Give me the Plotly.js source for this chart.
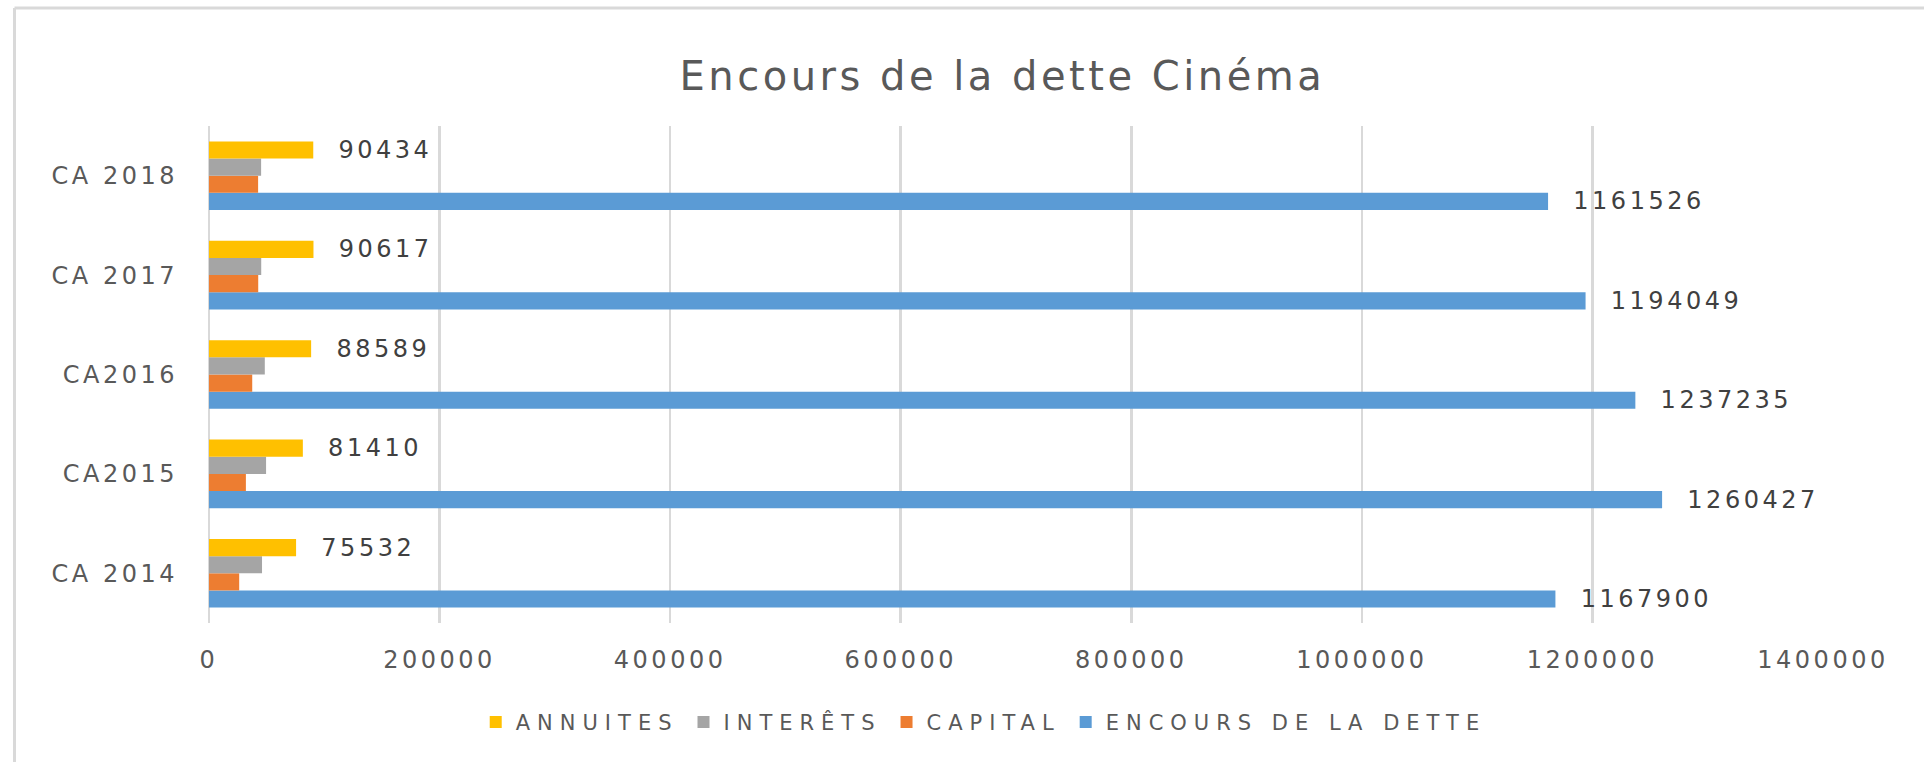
<!DOCTYPE html>
<html>
<head>
<meta charset="utf-8">
<script src="https://cdn.plot.ly/plotly-3.0.1.min.js"></script>
<style>
  body { margin: 0; background: #fff; }
  /* global so that plotly's hidden text tester measures the same spacing */
  svg text { letter-spacing: 3.5px; }
  svg text.legendtext { letter-spacing: 7px; }
</style>
</head>
<body>
<div id="chart" style="width:1924px;height:762px;"></div>
<script>
var categories = ["CA 2014", "CA2015", "CA2016", "CA 2017", "CA 2018"];
var annuites = [75532, 81410, 88589, 90617, 90434];
var interets = [46000, 49500, 48400, 45300, 45200];
var capital = [26200, 32000, 37500, 42700, 42600];
var encours = [1167900, 1260427, 1237235, 1194049, 1161526];

var pad = "\u00a0\u00a0";
var labelFont = {family: "DejaVu Sans", size: 24, color: "#404040"};

// first trace sits at the bottom of each group
var traceEncours = {
  y: categories, x: encours, name: "ENCOURS DE LA DETTE", type: "bar", orientation: "h",
  marker: {color: "#5B9BD5"},
  texttemplate: pad + "%{x}", textposition: "outside", textfont: labelFont,
  constraintext: "none", cliponaxis: false, hoverinfo: "x"
};
var traceCapital = {
  y: categories, x: capital, name: "CAPITAL", type: "bar", orientation: "h",
  marker: {color: "#ED7D31"}, hoverinfo: "x"
};
var traceInterets = {
  y: categories, x: interets, name: "INTERÊTS", type: "bar", orientation: "h",
  marker: {color: "#A5A5A5"}, hoverinfo: "x"
};
var traceAnnuites = {
  y: categories, x: annuites, name: "ANNUITES", type: "bar", orientation: "h",
  marker: {color: "#FFC000"},
  texttemplate: pad + "%{x}", textposition: "outside", textfont: labelFont,
  constraintext: "none", cliponaxis: false, hoverinfo: "x"
};

var data = [traceEncours, traceCapital, traceInterets, traceAnnuites];

var layout = {
  width: 1924,
  height: 762,
  margin: {l: 209, r: 101, t: 126, b: 139},
  paper_bgcolor: "#ffffff",
  plot_bgcolor: "#ffffff",
  font: {family: "DejaVu Sans", color: "#595959"},
  title: {
    text: "Encours de la dette Cinéma",
    font: {family: "DejaVu Sans", size: 40, color: "#595959"},
    x: 0.521, xanchor: "center",
    y: 0.9, yanchor: "middle"
  },
  barmode: "group",
  bargap: 0.31,
  bargroupgap: 0,
  xaxis: {
    range: [0, 1400000],
    dtick: 200000,
    tickformat: "d",
    showgrid: true,
    gridcolor: "#d9d9d9",
    gridwidth: 2.5,
    zeroline: true,
    zerolinecolor: "#d9d9d9",
    zerolinewidth: 2.5,
    showline: false,
    ticks: "",
    ticklabelstandoff: 20,
    tickfont: {family: "DejaVu Sans", size: 24, color: "#595959"},
    fixedrange: true
  },
  yaxis: {
    type: "category",
    showgrid: false,
    zeroline: false,
    showline: false,
    ticks: "",
    ticklabelstandoff: 30,
    tickfont: {family: "DejaVu Sans", size: 24, color: "#595959"},
    fixedrange: true
  },
  showlegend: true,
  legend: {
    orientation: "h",
    traceorder: "reversed",
    x: 0.48, xanchor: "center",
    y: -0.2, yanchor: "middle",
    font: {family: "DejaVu Sans", size: 21, color: "#595959"}
  },
  shapes: [
    {type: "line", xref: "paper", yref: "paper", x0: -0.1205, x1: -0.1205, y0: -0.3, y1: 1.2374,
     line: {color: "#d9d9d9", width: 3}},
    {type: "line", xref: "paper", yref: "paper", x0: -0.1205, x1: 1.1, y0: 1.2374, y1: 1.2374,
     line: {color: "#d9d9d9", width: 3}}
  ]
};

Plotly.newPlot("chart", data, layout, {displayModeBar: false, staticPlot: true});
</script>
</body>
</html>
